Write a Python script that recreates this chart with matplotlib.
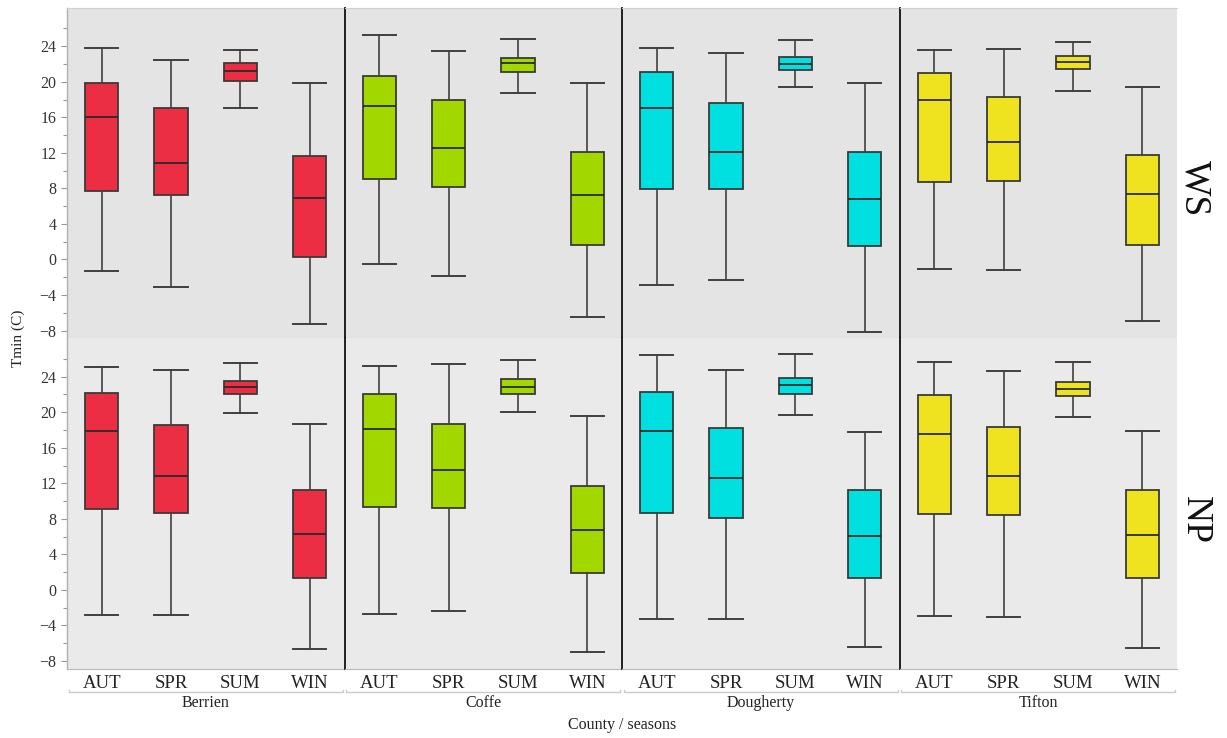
import matplotlib
matplotlib.use("Agg")
import matplotlib.pyplot as plt
from matplotlib.ticker import FixedLocator

plt.rcParams['font.family'] = ['Liberation Serif', 'DejaVu Serif']

seasons = ["AUT", "SPR", "SUM", "WIN"]
counties = ["Berrien", "Coffe", "Dougherty", "Tifton"]
rows = ["WS", "NP"]
colors = ["#EC2E45", "#A2D700", "#00E0E0", "#EFE31F"]
major_ticks = [-8, -4, 0, 4, 8, 12, 16, 20, 24]
minor_ticks = [-6, -2, 2, 6, 10, 14, 18, 22, 26]

# each season: (whisker low, Q1, median, Q3, whisker high)
ws_berrien = [(-1.3, 7.7, 16.0, 19.9, 23.8), (-3.1, 7.2, 10.9, 17.0, 22.5),
              (17.1, 20.1, 21.2, 22.1, 23.55), (-7.3, 0.3, 6.9, 11.6, 19.9)]
ws_coffe = [(-0.5, 9.0, 17.25, 20.65, 25.25), (-1.85, 8.15, 12.5, 17.95, 23.45),
            (18.7, 21.1, 22.1, 22.7, 24.8), (-6.5, 1.6, 7.25, 12.1, 19.9)]
ws_dougherty = [(-2.9, 7.95, 17.0, 21.05, 23.8), (-2.3, 7.95, 12.1, 17.6, 23.2),
                (19.4, 21.3, 22.0, 22.75, 24.65), (-8.2, 1.5, 6.8, 12.1, 19.9)]
ws_tifton = [(-1.1, 8.75, 18.0, 21.0, 23.55), (-1.2, 8.8, 13.2, 18.3, 23.7),
             (19.0, 21.4, 22.2, 22.95, 24.5), (-6.9, 1.6, 7.35, 11.8, 19.4)]

np_berrien = [(-2.8, 9.1, 17.9, 22.2, 25.1), (-2.8, 8.7, 12.85, 18.6, 24.75),
              (19.9, 22.0, 22.8, 23.55, 25.5), (-6.6, 1.35, 6.25, 11.2, 18.7)]
np_coffe = [(-2.75, 9.3, 18.1, 22.1, 25.25), (-2.4, 9.2, 13.55, 18.7, 25.4),
            (20.0, 22.1, 22.8, 23.7, 25.85), (-6.95, 1.9, 6.8, 11.65, 19.55)]
np_dougherty = [(-3.25, 8.65, 17.85, 22.25, 26.4), (-3.25, 8.1, 12.6, 18.2, 24.8),
                (19.65, 22.0, 23.1, 23.8, 26.6), (-6.4, 1.3, 6.1, 11.3, 17.75)]
np_tifton = [(-2.9, 8.55, 17.6, 21.9, 25.6), (-3.0, 8.4, 12.85, 18.3, 24.65),
             (19.5, 21.8, 22.6, 23.45, 25.6), (-6.5, 1.3, 6.15, 11.25, 17.9)]

data = [[ws_berrien, ws_coffe, ws_dougherty, ws_tifton],
        [np_berrien, np_coffe, np_dougherty, np_tifton]]

W, H = 1227, 738
fig, axes = plt.subplots(2, 4, figsize=(W / 100, H / 100), dpi=100, sharey=True)
fig.subplots_adjust(left=67 / W, right=1177 / W, top=1 - 8 / H, bottom=1 - 669 / H,
                    wspace=0, hspace=0)

bg = ["#E4E4E4", "#EAEAEA"]
for r in range(2):
    for c in range(4):
        ax = axes[r][c]
        stats = []
        for s, (lo, q1, med, q3, hi) in zip(seasons, data[r][c]):
            stats.append(dict(label=s, whislo=lo, q1=q1, med=med, q3=q3, whishi=hi, fliers=[]))
        bp = ax.bxp(stats, positions=range(4), widths=0.48, capwidths=0.48,
                    patch_artist=True, showfliers=False,
                    boxprops=dict(edgecolor="#3a3a3a", linewidth=1.3),
                    medianprops=dict(color="#2a2a2a", linewidth=1.3),
                    whiskerprops=dict(color="#404040", linewidth=1.2),
                    capprops=dict(color="#404040", linewidth=1.4))
        for patch in bp["boxes"]:
            patch.set_facecolor(colors[c])

        ax.set_facecolor(bg[r])
        ax.set_xlim(-0.5, 3.5)
        ax.set_ylim(-8.9, 28.3)
        for side in ["top", "right", "bottom", "left"]:
            ax.spines[side].set_visible(False)
        ax.spines["left"].set_visible(True)
        if c > 0:
            ax.spines["left"].set_color("#111111")
            ax.spines["left"].set_linewidth(1.3)
        else:
            ax.spines["left"].set_color("#B0B0B0")
            ax.spines["left"].set_linewidth(1.0)
        if r == 0:
            ax.spines["top"].set_visible(True)
            ax.spines["top"].set_color("#D0D0D0")
        else:
            ax.spines["bottom"].set_visible(True)
            ax.spines["bottom"].set_color("#B8B8B8")

        ax.yaxis.set_major_locator(FixedLocator(major_ticks))
        ax.yaxis.set_minor_locator(FixedLocator(minor_ticks))
        ax.tick_params(axis="y", which="both", colors="#999999", labelcolor="#333333",
                       labelsize=11.5, length=4, width=0.8)
        ax.tick_params(axis="y", which="minor", length=3)
        if c > 0:
            ax.tick_params(axis="y", which="both", left=False, labelleft=False)

        ax.tick_params(axis="x", length=0, labelsize=13.5, labelcolor="#222222", pad=4)
        if r == 0:
            ax.tick_params(axis="x", labelbottom=False)
        else:
            # bracket under the season labels, then the county name
            yb = -23 / 331
            ax.plot([0.006, 0.006, 0.994, 0.994], [yb + 0.007, yb, yb, yb + 0.007],
                    transform=ax.transAxes, clip_on=False, color="#CACACA", lw=1.0)
            ax.text(0.5, -34 / 331, counties[c], transform=ax.transAxes,
                    ha="center", va="center", fontsize=11.5, color="#222222")

fig.text(622 / W, 1 - 725 / H, "County / seasons", ha="center", va="center",
         fontsize=11.5, color="#222222")
fig.text(18 / W, 1 - 338 / H, "Tmin (C)", ha="center", va="center",
         rotation=90, fontsize=11, color="#222222")
fig.text(1195 / W, 1 - 188 / H, rows[0], ha="center", va="center",
         rotation=-90, fontsize=27, color="#111111")
fig.text(1195 / W, 1 - 520 / H, rows[1], ha="center", va="center",
         rotation=-90, fontsize=27, color="#111111")

fig.savefig("out.png", dpi=100, facecolor="white")
